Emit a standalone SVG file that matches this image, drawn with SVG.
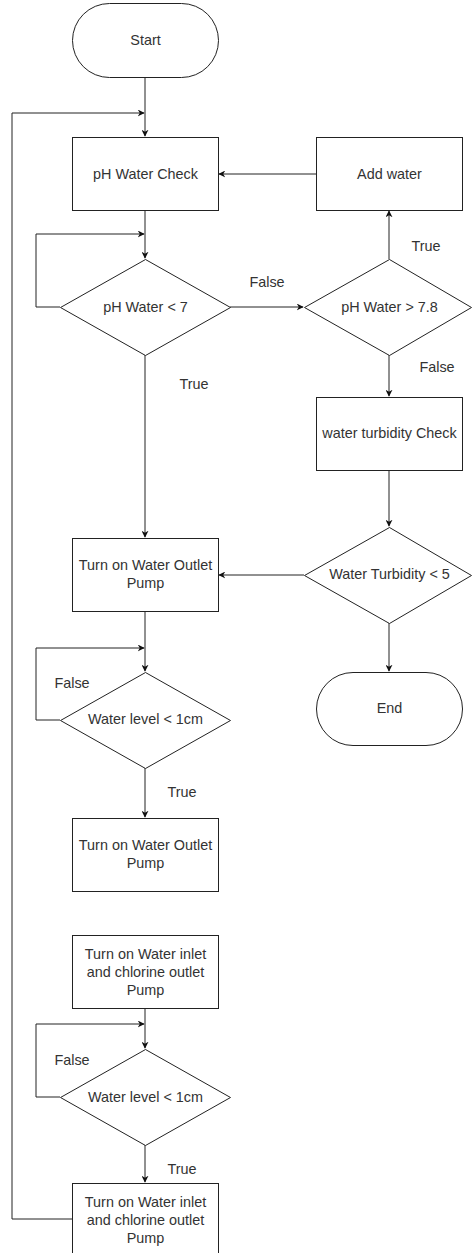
<svg xmlns="http://www.w3.org/2000/svg" width="472" height="1253" viewBox="0 0 472 1253">
<style>
.n{fill:#fff;stroke:#222;stroke-width:1}
.t{font-family:"Liberation Sans",Arial,sans-serif;font-size:14.4px;fill:#333;text-anchor:middle;dominant-baseline:central}
.l{font-family:"Liberation Sans",Arial,sans-serif;font-size:14.4px;fill:#333;text-anchor:middle;dominant-baseline:central}
.c{fill:none;stroke:#222;stroke-width:1}
</style>
<defs>
<marker id="a" viewBox="0 0 10 10" refX="9" refY="5" markerWidth="7" markerHeight="7" markerUnits="userSpaceOnUse" orient="auto">
<path d="M0,0 L10,5 L0,10 L3,5 Z" fill="#111"/>
</marker>
</defs>
<rect width="472" height="1253" fill="#fff"/>
<g id="connectors">
<path class="c" d="M145,77 V136" marker-end="url(#a)"/>
<path class="c" d="M72.5,1219 H12 V113 H144" marker-end="url(#a)"/>
<path class="c" d="M316,174 H219" marker-end="url(#a)"/>
<path class="c" d="M145,210 V258" marker-end="url(#a)"/>
<path class="c" d="M60,307 H36 V234 H144" marker-end="url(#a)"/>
<path class="c" d="M230,307 H303" marker-end="url(#a)"/>
<path class="c" d="M389,259 V211" marker-end="url(#a)"/>
<path class="c" d="M389,355 V396" marker-end="url(#a)"/>
<path class="c" d="M145,355 V537" marker-end="url(#a)"/>
<path class="c" d="M389,470 V526" marker-end="url(#a)"/>
<path class="c" d="M304,575 H219" marker-end="url(#a)"/>
<path class="c" d="M389,623 V671" marker-end="url(#a)"/>
<path class="c" d="M145,611 V671" marker-end="url(#a)"/>
<path class="c" d="M60,720 H36 V648 H144" marker-end="url(#a)"/>
<path class="c" d="M145,768 V817" marker-end="url(#a)"/>
<path class="c" d="M145,1008 V1048" marker-end="url(#a)"/>
<path class="c" d="M60,1097 H36 V1024 H144" marker-end="url(#a)"/>
<path class="c" d="M145,1145 V1182" marker-end="url(#a)"/>
<text class="l" x="267" y="282">False</text>
<text class="l" x="426" y="246">True</text>
<text class="l" x="437" y="367">False</text>
<text class="l" x="194" y="384">True</text>
<text class="l" x="72" y="683">False</text>
<text class="l" x="182" y="792">True</text>
<text class="l" x="72" y="1060">False</text>
<text class="l" x="182" y="1169">True</text>
</g>
<g id="start">
<rect class="n" x="72.5" y="3.5" width="146" height="74" rx="37" ry="37"/>
<text class="t" x="145.5" y="40">Start</text>
</g>
<g id="ph-check">
<rect class="n" x="72.5" y="137.5" width="146" height="73"/>
<text class="t" x="145.5" y="174">pH Water Check</text>
</g>
<g id="add-water">
<rect class="n" x="316.5" y="137.5" width="146" height="73"/>
<text class="t" x="389.5" y="174">Add water</text>
</g>
<g id="ph-lt-7">
<polygon class="n" points="145.5,259.5 230.5,307.5 145.5,355.5 60.5,307.5"/>
<text class="t" x="145.5" y="307">pH Water &lt; 7</text>
</g>
<g id="ph-gt-78">
<polygon class="n" points="389.5,259.5 471.5,307.5 389.5,355.5 304.5,307.5"/>
<text class="t" x="389.5" y="307">pH Water &gt; 7.8</text>
</g>
<g id="turbidity-check">
<rect class="n" x="316.5" y="397.5" width="146" height="73"/>
<text class="t" x="389.5" y="433">water turbidity Check</text>
</g>
<g id="turbidity-lt-5">
<polygon class="n" points="389.5,527.5 471.5,575.5 389.5,623.5 304.5,575.5"/>
<text class="t" x="389.5" y="574">Water Turbidity &lt; 5</text>
</g>
<g id="outlet-pump-1">
<rect class="n" x="72.5" y="538.5" width="146" height="73"/>
<text class="t" x="145.5" y="565">Turn on Water Outlet</text>
<text class="t" x="145.5" y="583">Pump</text>
</g>
<g id="end">
<rect class="n" x="316.5" y="672.5" width="146" height="73" rx="36.5" ry="36.5"/>
<text class="t" x="389.5" y="708">End</text>
</g>
<g id="level-1">
<polygon class="n" points="145.5,672.5 230.5,720.5 145.5,768.5 60.5,720.5"/>
<text class="t" x="145.5" y="719">Water level &lt; 1cm</text>
</g>
<g id="outlet-pump-2">
<rect class="n" x="72.5" y="818.5" width="146" height="73"/>
<text class="t" x="145.5" y="845">Turn on Water Outlet</text>
<text class="t" x="145.5" y="863">Pump</text>
</g>
<g id="inlet-pump-1">
<rect class="n" x="72.5" y="935.5" width="146" height="73"/>
<text class="t" x="145.5" y="954">Turn on Water inlet</text>
<text class="t" x="145.5" y="972">and chlorine outlet</text>
<text class="t" x="145.5" y="990">Pump</text>
</g>
<g id="level-2">
<polygon class="n" points="145.5,1049.5 230.5,1097.5 145.5,1145.5 60.5,1097.5"/>
<text class="t" x="145.5" y="1097">Water level &lt; 1cm</text>
</g>
<g id="inlet-pump-2">
<rect class="n" x="72.5" y="1183.5" width="146" height="73"/>
<text class="t" x="145.5" y="1202">Turn on Water inlet</text>
<text class="t" x="145.5" y="1220">and chlorine outlet</text>
<text class="t" x="145.5" y="1238">Pump</text>
</g>
</svg>
